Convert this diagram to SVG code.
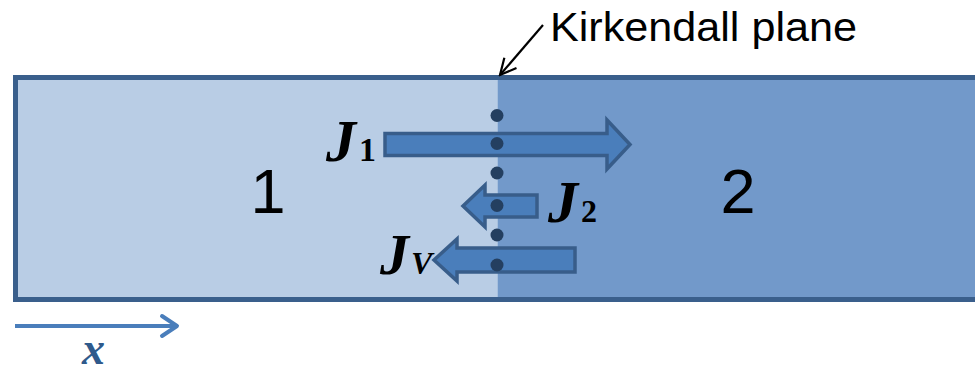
<svg xmlns="http://www.w3.org/2000/svg" width="975" height="374" viewBox="0 0 975 374">
  <defs>
    <style>
      .flux { fill: #4a7ebb; stroke: #385d8a; stroke-width: 3.5; stroke-linejoin: miter; }
      .dot { fill: #243f60; }
      .jl { font-family: "Liberation Serif", "DejaVu Serif", serif; font-style: italic; font-weight: bold; fill: #000; }
      .num { font-family: "Liberation Sans", "Arial", sans-serif; font-size: 63px; fill: #000; }
    </style>
    <marker id="open" viewBox="0 0 20 20" refX="18" refY="10" markerWidth="20" markerHeight="20" markerUnits="userSpaceOnUse" orient="auto">
      <path d="M2,2 L18,10 L2,18" fill="none" stroke="#000" stroke-width="2.2"/>
    </marker>
  </defs>
  <rect width="975" height="374" fill="#ffffff"/>

  <g id="bar">
    <rect x="15.5" y="77.5" width="482" height="222" fill="#b9cde5"/>
    <rect x="497.5" y="77.5" width="490" height="222" fill="#7299ca"/>
    <rect x="15.5" y="77.5" width="990" height="222" fill="none" stroke="#3a5f8c" stroke-width="5"/>
  </g>

  <g id="region-1"><text class="num" x="268" y="213" text-anchor="middle">1</text></g>
  <g id="region-2"><text class="num" x="738" y="213" text-anchor="middle">2</text></g>

  <g id="kirkendall-label">
    <text x="550" y="41" font-family="Liberation Sans, Arial, sans-serif" font-size="41" textLength="307" lengthAdjust="spacingAndGlyphs" fill="#000">Kirkendall plane</text>
  </g>

  <g id="J1-arrow">
    <path class="flux" d="M385,133.5 L607,133.5 L607,120 L630,144.5 L607,169 L607,155.5 L385,155.5 Z"/>
  </g>
  <g id="J2-arrow">
    <path class="flux" d="M537,195 L485,195 L485,185 L463,206 L485,227 L485,217 L537,217 Z"/>
  </g>
  <g id="JV-arrow">
    <path class="flux" d="M575,248 L457,248 L457,239 L434,260 L457,281 L457,272 L575,272 Z"/>
  </g>

  <g id="plane-dots">
    <circle class="dot" cx="497" cy="115.5" r="6.5"/>
    <circle class="dot" cx="497" cy="143.5" r="6.5"/>
    <circle class="dot" cx="497" cy="173" r="6.5"/>
    <circle class="dot" cx="497" cy="205.5" r="6.5"/>
    <circle class="dot" cx="497" cy="235" r="6.5"/>
    <circle class="dot" cx="497" cy="265" r="6.5"/>
  </g>

  <g id="J1-label"><text class="jl" x="326" y="161" font-size="60">J<tspan font-style="normal" font-size="34" dx="3">1</tspan></text></g>
  <g id="J2-label"><text class="jl" x="548" y="222" font-size="60">J<tspan font-style="normal" font-size="32" dx="3">2</tspan></text></g>
  <g id="JV-label"><text class="jl" x="380" y="274" font-size="58">J<tspan font-size="32" dx="2">V</tspan></text></g>

  <g id="connectors">
    <line x1="543" y1="25" x2="500" y2="75" stroke="#000" stroke-width="2.2" marker-end="url(#open)"/>
    <line x1="15" y1="326" x2="176" y2="326" stroke="#4a7ebb" stroke-width="4"/>
    <path d="M162,316 L177,326 L162,336" fill="none" stroke="#4a7ebb" stroke-width="4" stroke-linecap="round" stroke-linejoin="round"/>
  </g>

  <g id="x-label">
    <text class="jl" x="82" y="364" font-size="46" style="fill:#2f5a8c">x</text>
  </g>
</svg>
